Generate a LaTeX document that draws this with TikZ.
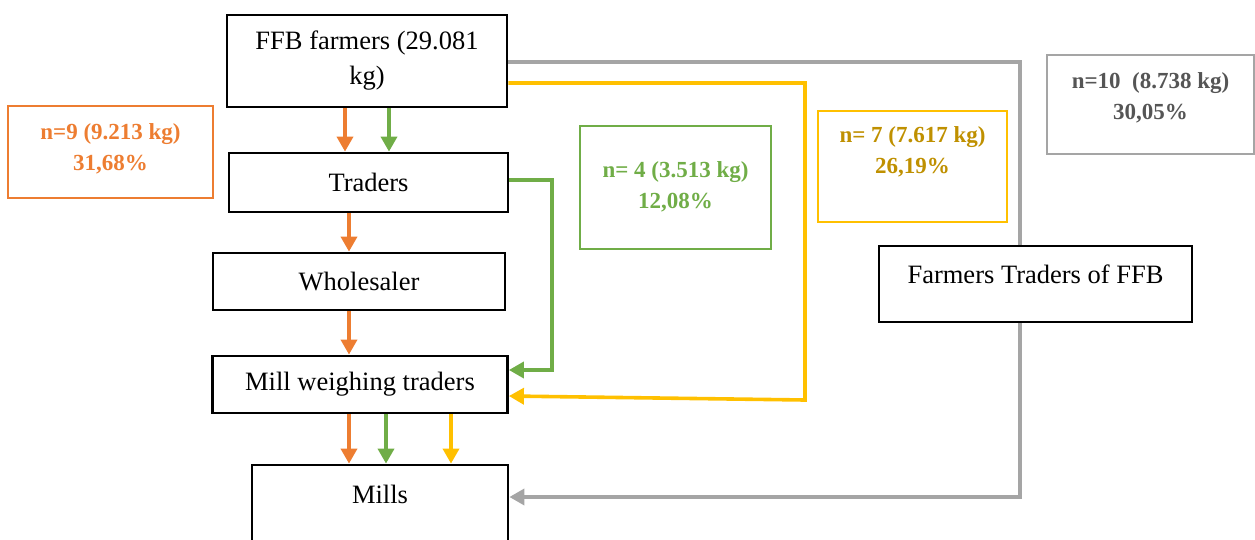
\documentclass[tikz,border=0pt]{standalone}
\usepackage{fontspec}
\setmainfont{Liberation Serif}
\usetikzlibrary{arrows.meta,backgrounds}
\definecolor{cOrange}{HTML}{ED7D31}
\definecolor{cGreen}{HTML}{70AD47}
\definecolor{cYellow}{HTML}{FFC000}
\definecolor{cGold}{HTML}{BF9000}
\definecolor{cGray}{HTML}{A5A5A5}
\definecolor{cDark}{HTML}{555555}
\begin{document}
\begin{tikzpicture}[x=1pt,y=-1pt,
  box/.style={draw=black,line width=2.8pt,fill=white,inner sep=0pt,
    font=\fontsize{26.5}{35}\selectfont,align=center},
  boxtext/.style={inner sep=0pt,font=\fontsize{26.5}{35}\selectfont},
  lbox/.style={draw=#1,line width=2.6pt,inner sep=0pt},
  ltext/.style={text=#1,font=\fontsize{23}{31}\selectfont\bfseries,
    align=center,inner sep=0pt},
  flow/.style={draw=#1,line width=3.6pt,-{Triangle[length=15pt,width=16pt]}}]
\useasboundingbox (0,0) rectangle (1255,539);
\clip (0,0) rectangle (1255,539);

% chain of actors
\node[box,minimum width=280pt,minimum height=92pt] (ffb) at (367,61) {FFB farmers (29.081\\kg)};
\node[box,minimum width=279pt,minimum height=59pt] (traders) at (368.5,182.5) {Traders};
\node[box,minimum width=292pt,minimum height=57pt] (whole) at (359,281.5) {Wholesaler};
\node[box,minimum width=295pt,minimum height=57pt] (mwt) at (360,384.5) {Mill weighing traders};
\node[box,minimum width=256pt,minimum height=110pt] (mills) at (380,520) {};
\node[boxtext] (millstext) at (380,494) {Mills};
\node[box,minimum width=313pt,minimum height=76pt] (ftf) at (1035.5,284) {};
\node[boxtext] (ftftext) at (1035.5,274) {Farmers Traders of FFB};

% channel labels
\node[lbox=cOrange,minimum width=205pt,minimum height=92pt] (lo) at (110.5,152) {};
\node[ltext=cOrange] (lotext) at (110.5,148.5) {n=9 (9.213 kg)\\31,68\%};
\node[lbox=cGreen,minimum width=191pt,minimum height=123pt] (lg) at (675.5,187.5) {};
\node[ltext=cGreen] (lgtext) at (675.5,187) {n= 4 (3.513 kg)\\12,08\%};
\node[lbox=cYellow,minimum width=189pt,minimum height=111pt] (ly) at (912.5,166.5) {};
\node[ltext=cGold] (lytext) at (912.5,151.7) {n= 7 (7.617 kg)\\26,19\%};
\node[lbox=cGray,minimum width=207pt,minimum height=99pt] (lgr) at (1150.5,104.5) {};
\node[ltext=cDark] (lgrtext) at (1150.5,97.5) {n=10\ \ (8.738 kg)\\30,05\%};

% orange channel
\draw[flow=cOrange] (ffb.south -| 345,0) -- (traders.north -| 345,0);
\draw[flow=cOrange] (traders.south -| 349,0) -- (whole.north -| 349,0);
\draw[flow=cOrange] (whole.south -| 349,0) -- (mwt.north -| 349,0);
\draw[flow=cOrange] (mwt.south -| 349,0) -- (mills.north -| 349,0);

% green channel
\draw[flow=cGreen] (ffb.south -| 389,0) -- (traders.north -| 389,0);
\draw[flow=cGreen] (traders.east |- 0,180) -| (552,370) -- (mwt.east |- 0,370);
\draw[flow=cGreen] (mwt.south -| 386,0) -- (mills.north -| 386,0);

% yellow channel
\draw[flow=cYellow] (ffb.east |- 0,83) -| (805,400) -- (mwt.east |- 0,396);
\draw[flow=cYellow] (mwt.south -| 451,0) -- (mills.north -| 451,0);

% grey channel, passing behind the farmer-traders box
\begin{pgfonlayer}{background}
\draw[flow=cGray] (ffb.east |- 0,62) -| (1020,497) -- (mills.east |- 0,497);
\end{pgfonlayer}
\end{tikzpicture}
\end{document}
